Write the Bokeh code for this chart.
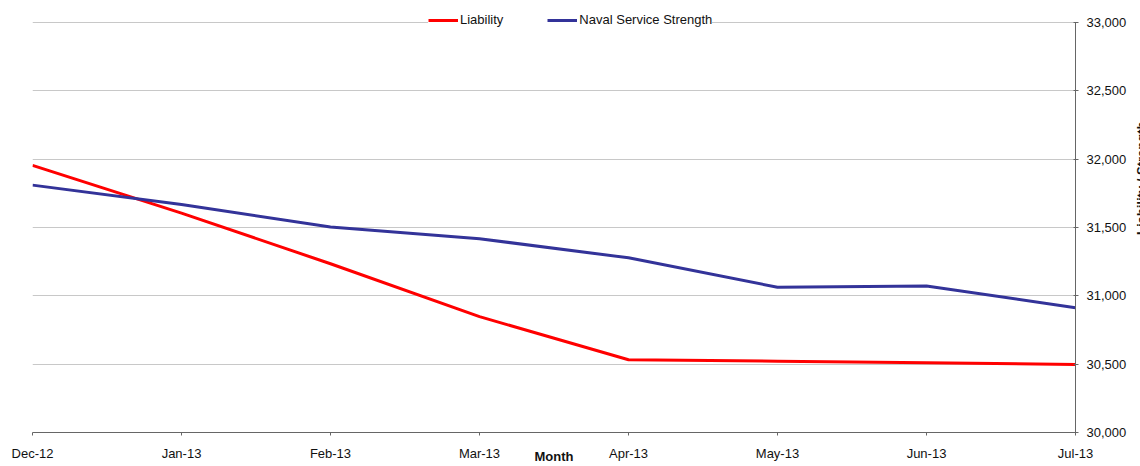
import math
from bokeh.plotting import figure
from bokeh.layouts import row
from bokeh.models import Range1d, FixedTicker, NumeralTickFormatter, Legend, LegendItem, Label
from bokeh.embed import file_html
from bokeh.resources import INLINE

months = ["Dec-12", "Jan-13", "Feb-13", "Mar-13", "Apr-13", "May-13", "Jun-13", "Jul-13"]
liability = [31955, 31605, 31235, 30848, 30532, 30522, 30510, 30498]
strength = [31810, 31668, 31503, 31418, 31278, 31063, 31072, 30913]
y_ticks = [30000, 30500, 31000, 31500, 32000, 32500, 33000]
y_title = "Liability / Strength"

FONT = "Liberation Sans"
x = list(range(len(months)))

# headroom above the 33,000 line so the legend can sit on it
y_range = Range1d(30000, 33161)

p = figure(width=1133, height=466, output_backend="svg", toolbar_location=None,
           x_range=Range1d(0, len(months) - 1), y_range=y_range,
           y_axis_location="right",
           min_border_left=32, min_border_top=0, min_border_right=58, min_border_bottom=34)
p.outline_line_color = None
p.background_fill_color = "white"
p.border_fill_color = "white"

r1 = p.line(x, liability, line_color="#FF0000", line_width=3)
r2 = p.line(x, strength, line_color="#333399", line_width=3)

p.xgrid.grid_line_color = None
p.ygrid.grid_line_color = "#c8c8c8"
p.ygrid.grid_line_width = 1

p.xaxis.ticker = FixedTicker(ticks=x)
p.xaxis.major_label_overrides = {i: m for i, m in enumerate(months)}
p.yaxis.ticker = FixedTicker(ticks=y_ticks)
p.yaxis.formatter = NumeralTickFormatter(format="0,0")
p.yaxis.bounds = (y_ticks[0], y_ticks[-1])

for ax in (p.xaxis[0], p.yaxis[0]):
    ax.axis_line_color = "#666666"
    ax.major_tick_line_color = "#666666"
    ax.minor_tick_line_color = None
    ax.major_label_text_font = FONT
    ax.major_label_text_font_size = "13px"
    ax.major_label_text_color = "#111111"
    ax.axis_label_text_font = FONT
    ax.axis_label_text_font_size = "13px"
    ax.axis_label_text_font_style = "bold"
    ax.axis_label_text_color = "#111111"

p.xaxis.major_tick_in = 0
p.xaxis.major_tick_out = 3
p.xaxis.major_label_standoff = 10
p.xaxis.axis_label = "Month"
p.xaxis.axis_label_standoff = -15

p.yaxis.major_tick_in = 2
p.yaxis.major_tick_out = 3
p.yaxis.major_label_standoff = 8

legend = Legend(items=[LegendItem(label="Liability", renderers=[r1]),
                       LegendItem(label="Naval Service Strength", renderers=[r2])],
                orientation="horizontal", location=(396, 405),
                padding=20, spacing=44, margin=0,
                glyph_width=30, glyph_height=14, label_height=14, label_width=10,
                label_standoff=2,
                label_text_font=FONT, label_text_font_size="13px", label_text_color="#111111",
                background_fill_color="white", background_fill_alpha=1.0,
                border_line_color=None)
p.add_layout(legend)

# narrow strip at the right edge carrying the (edge-cropped) axis title
p2 = figure(width=7, height=466, output_backend="svg", toolbar_location=None,
            x_range=Range1d(0, 1), y_range=y_range, x_axis_type=None, y_axis_type=None,
            min_border_left=0, min_border_top=0, min_border_right=0, min_border_bottom=34)
p2.outline_line_color = None
p2.grid.visible = False
p2.background_fill_color = "white"
p2.border_fill_color = "white"
p2.add_layout(Label(x=0, y=31860, text=y_title, angle=math.pi / 2,
                    text_align="center", text_baseline="top",
                    text_font=FONT, text_font_size="13px", text_font_style="bold",
                    text_color="#111111"))

layout = row(p, p2, spacing=0)
open("out.html", "w").write(file_html(layout, INLINE))
